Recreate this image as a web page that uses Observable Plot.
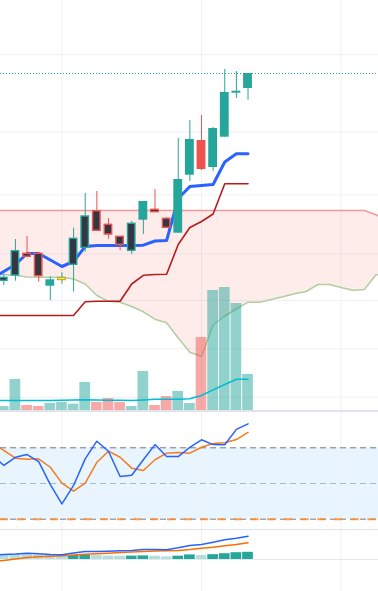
<!DOCTYPE html>
<html><head><meta charset="utf-8">
<script src="https://cdn.jsdelivr.net/npm/d3@7"></script>
<script src="https://cdn.jsdelivr.net/npm/@observablehq/plot@0.6"></script>
<style>
html,body{margin:0;padding:0;background:#fff;}
#chart{position:relative;width:378px;height:591px;overflow:hidden;background:#fff;}
#chart > *{position:absolute;left:0;}
</style></head><body>
<div id="chart"></div>
<script>
// ---------- data (bar index 0..21; indicator series start at index -1) ----------
const open  = [12.97, 13.5, 15.67, 15.67, 12.43, 13.03, 14.57, 16.27, 19.93, 18.57, 17.37, 15.97, 19.03, 20.07, 19.17, 17.73, 23.53, 27.0, 24.3, 27.33, 31.73, 32.2];
const high  = [13.6, 17.1, 17.4, 15.67, 13.37, 13.77, 18.23, 21.7, 21.9, 19.2, 17.37, 18.9, 20.9, 22.1, 19.3, 27.2, 29.0, 29.5, 28.3, 34.1, 33.9, 33.7];
const low   = [12.5, 12.93, 15.33, 12.83, 11.0, 12.63, 11.83, 15.83, 17.97, 17.13, 16.0, 15.6, 17.6, 19.83, 18.27, 17.73, 22.9, 24.0, 23.9, 27.33, 31.2, 31.03];
const close = [13.27, 15.93, 15.37, 13.43, 13.07, 13.27, 17.17, 19.4, 17.97, 17.6, 16.57, 18.67, 20.9, 19.83, 18.27, 23.1, 27.1, 24.1, 28.2, 31.8, 31.93, 33.7];
const barState = ["inside","inside","inside","inside","breakout","doji","inside","inside","inside","inside","inside","inside","breakout","inside","inside","breakout","breakout","breakout","breakout","breakout","breakout","breakout"];
const volume = [40, 310, 50, 40, 70, 80, 63, 280, 80, 120, 80, 40, 390, 50, 140, 190, 70, 730, 1200, 1230, 1070, 360];

// indicator series, index -1..21
const volumeMA = [100, 100, 100, 100, 100, 100, 103, 105, 107, 105, 103, 103, 100, 105, 112, 112, 113, 118, 150, 206, 260, 313, 313];
const tenkan = [13.2, 13.9, 14.6, 15.7, 15.7, 15.05, 14.4, 14.9, 16.4, 16.5, 16.5, 16.5, 16.5, 16.53, 16.95, 17.0, 21.2, 22.4, 22.5, 22.6, 24.85, 25.67, 25.67];
const kijun = [9.5, 9.5, 9.5, 9.5, 9.5, 9.5, 9.5, 9.5, 10.87, 10.93, 10.93, 10.93, 12.65, 13.52, 13.6, 13.63, 16.6, 18.3, 18.9, 19.65, 22.67, 22.67, 22.67];
const rsi   = [66, 60.1, 64.7, 66.2, 62.3, 49.4, 38.6, 48.9, 63.8, 73.7, 68.1, 53.9, 54.6, 63.3, 71.8, 65.1, 65.1, 70.3, 74.5, 71.8, 71.7, 80.3, 83.4];
const rsiMA = [72.7, 68.6, 64.2, 63.6, 63.8, 59.1, 50.2, 45.7, 50.2, 61.9, 68.1, 64.7, 58.6, 57.3, 63.3, 67.0, 67.4, 67.0, 70.3, 72.4, 72.8, 74.6, 78.6];
const macd   = [0.04, 0.05, 0.055, 0.063, 0.057, 0.05, 0.047, 0.065, 0.08, 0.08, 0.083, 0.087, 0.09, 0.10, 0.10, 0.097, 0.117, 0.14, 0.15, 0.173, 0.197, 0.213, 0.233];
const signal = [-0.015, -0.01, 0.005, 0.02, 0.027, 0.032, 0.038, 0.045, 0.053, 0.058, 0.063, 0.07, 0.075, 0.08, 0.084, 0.087, 0.09, 0.10, 0.113, 0.123, 0.137, 0.15, 0.167];
const histogram = [0.054, 0.052, 0.050, 0.048, 0.045, 0.040, 0.036, 0.040, 0.046, 0.039, 0.034, 0.032, 0.034, 0.036, 0.033, 0.026, 0.033, 0.046, 0.040, 0.048, 0.058, 0.068, 0.072];

// leading spans (shifted forward), index -1..33
const spanA = [13.6, 13.6, 13.52, 13.35, 13.33, 13.33, 13.33, 13.15, 12.65, 11.5, 10.92, 10.82, 10.4, 9.87, 9.13, 8.77, 7.25, 5.83, 5.4, 8.55, 9.45, 10.15, 10.83, 10.83, 11.1, 11.37, 11.67, 11.9, 12.6, 12.6, 12.3, 12.03, 12.1, 13.57, 13.6];
const spanB = [20, 20, 20, 20, 20, 20, 20, 20, 20, 20, 20, 20, 20, 20, 20, 20, 20, 20, 20, 20, 20, 20, 20, 20, 20, 20, 20, 20, 20, 20, 20, 20, 20, 19.58, 18.9];

// grid / reference levels
const priceGrid = [35.6, 27.85, 21.57, 15.67, 11.0, 6.17, 1.33];
const timeGrid = [5, 17, 29];
const rsiLevels = {upper: 70, middle: 50, lower: 30};
const rsiGrid = [43.1];

// ---------- build tables ----------
const UP = "#26a69a", DOWN = "#ef5350", DARK = "#333743", GRID = "#f0f1f5";
const bars = open.map((o, i) => ({i, open: o, high: high[i], low: low[i], close: close[i], state: barState[i], vol: volume[i]}));
const ind = tenkan.map((t, k) => ({i: k - 1, tenkan: t, kijun: kijun[k], volMA: volumeMA[k], rsi: rsi[k], rsiMA: rsiMA[k], macd: macd[k], signal: signal[k], hist: histogram[k], prevHist: k > 0 ? histogram[k - 1] : histogram[k]}));
const cloud = spanA.map((a, k) => ({i: k - 1, a, b: spanB[k]}));
const dir = d => d.close >= d.open ? UP : DOWN;

const X = {domain: [-0.284, 32.22], axis: null};
const base = {width: 378, marginTop: 0, marginRight: 0, marginBottom: 0, marginLeft: 0, x: X, style: {background: "transparent"}};
const chart = document.getElementById("chart");
function place(el, top) { el.style.position = "absolute"; el.style.top = top + "px"; el.style.left = "0px"; chart.appendChild(el); }
const hw = 0.38, vw = 0.46;

// ---------- main pane ----------
const main = Plot.plot({...base, height: 410, y: {domain: [0, 41], axis: null},
  marks: [
    Plot.ruleY(priceGrid, {stroke: GRID}),
    Plot.ruleX(timeGrid, {stroke: GRID}),
    Plot.areaY(cloud, {x: "i", y1: "a", y2: "b", fill: "#f44336", fillOpacity: 0.1, clip: true}),
    Plot.line(cloud, {x: "i", y: "a", stroke: "#b0cea0", strokeWidth: 1.5, clip: true}),
    Plot.line(cloud, {x: "i", y: "b", stroke: "#ef9a9a", strokeWidth: 1.5, clip: true}),
    Plot.line(ind, {x: "i", y: "kijun", stroke: "#b71c1c", strokeWidth: 1.6, clip: true}),
    Plot.line(ind, {x: "i", y: "tenkan", stroke: "#2962ff", strokeWidth: 3, clip: true}),
    Plot.ruleY([close[close.length - 1]], {stroke: UP, strokeDasharray: "1,2"}),
    Plot.ruleX(bars, {x: "i", y1: "low", y2: "high", stroke: dir, strokeWidth: 1, clip: true}),
    Plot.rect(bars, {filter: d => d.state === "breakout", x1: d => d.i - hw, x2: d => d.i + hw, y1: "open", y2: "close", fill: dir, clip: true}),
    Plot.rect(bars, {filter: d => d.state === "inside", x1: d => d.i - hw, x2: d => d.i + hw, y1: "open", y2: "close", fill: DARK, stroke: dir, strokeWidth: 1.4, insetLeft: 0.7, insetRight: 0.7, clip: true}),
    Plot.rect(bars, {filter: d => d.state === "doji", x1: d => d.i - hw, x2: d => d.i + hw, y1: "open", y2: "close", fill: "#ffeb3b", stroke: "#b9a51e", strokeWidth: 1, insetLeft: 0.5, insetRight: 0.5})
  ]});
place(main, 0);

// ---------- volume overlay ----------
const vol = Plot.plot({...base, height: 410, y: {domain: [0, 4100], axis: null},
  marks: [
    Plot.rect(bars, {x1: d => d.i - vw, x2: d => d.i + vw, y1: d => 0, y2: "vol", fill: dir, fillOpacity: 0.5, clip: true}),
    Plot.line(ind, {x: "i", y: "volMA", stroke: "#00bcd4", strokeWidth: 1.6, clip: true})
  ]});
place(vol, 0);

// ---------- RSI pane ----------
const rsiPlot = Plot.plot({...base, height: 117, y: {domain: [24.23, 89.78], axis: null},
  marks: [
    Plot.rect([rsiLevels], {x1: () => X.domain[0], x2: () => X.domain[1], y1: "lower", y2: "upper", fill: "#2196f3", fillOpacity: 0.1}),
    Plot.ruleX(timeGrid, {stroke: GRID}),
    Plot.ruleY(rsiGrid, {stroke: GRID}),
    Plot.ruleY([rsiLevels.upper, rsiLevels.lower], {stroke: "#787b86", strokeDasharray: "6,4"}),
    Plot.ruleY([rsiLevels.middle], {stroke: "#787b86", strokeOpacity: 0.5, strokeDasharray: "6,4"}),
    Plot.ruleY([rsiLevels.lower], {stroke: "#fb8c2a", strokeWidth: 2, strokeDasharray: "8,8.7", strokeOpacity: 0.85}),
    Plot.line(ind, {x: "i", y: "rsiMA", stroke: "#f57c1f", strokeWidth: 1.5, clip: true}),
    Plot.line(ind, {x: "i", y: "rsi", stroke: "#2962ff", strokeWidth: 1.5, clip: true})
  ]});
place(rsiPlot, 412);

// ---------- MACD pane ----------
const macdPlot = Plot.plot({...base, height: 61, y: {domain: [-0.32, 0.29], axis: null},
  marks: [
    Plot.ruleX(timeGrid, {stroke: GRID}),
    Plot.ruleY([0], {stroke: "#e6e8ee"}),
    Plot.rect(ind, {x1: d => d.i - vw, x2: d => d.i + vw, y1: d => 0, y2: "hist", fill: d => d.hist >= d.prevHist ? "#26a69a" : "#b2dfdb", clip: true}),
    Plot.line(ind, {x: "i", y: "signal", stroke: "#ff6d00", strokeWidth: 1.5, clip: true}),
    Plot.line(ind, {x: "i", y: "macd", stroke: "#2962ff", strokeWidth: 1.5, clip: true})
  ]});
place(macdPlot, 530);

// pane separators
for (const [top, h] of [[410, 2], [529, 1]]) {
  const s = document.createElement("div");
  s.style.cssText = `position:absolute;left:0;top:${top}px;width:378px;height:${h}px;background:#e0e3eb;`;
  chart.appendChild(s);
}
</script>
</body></html>
